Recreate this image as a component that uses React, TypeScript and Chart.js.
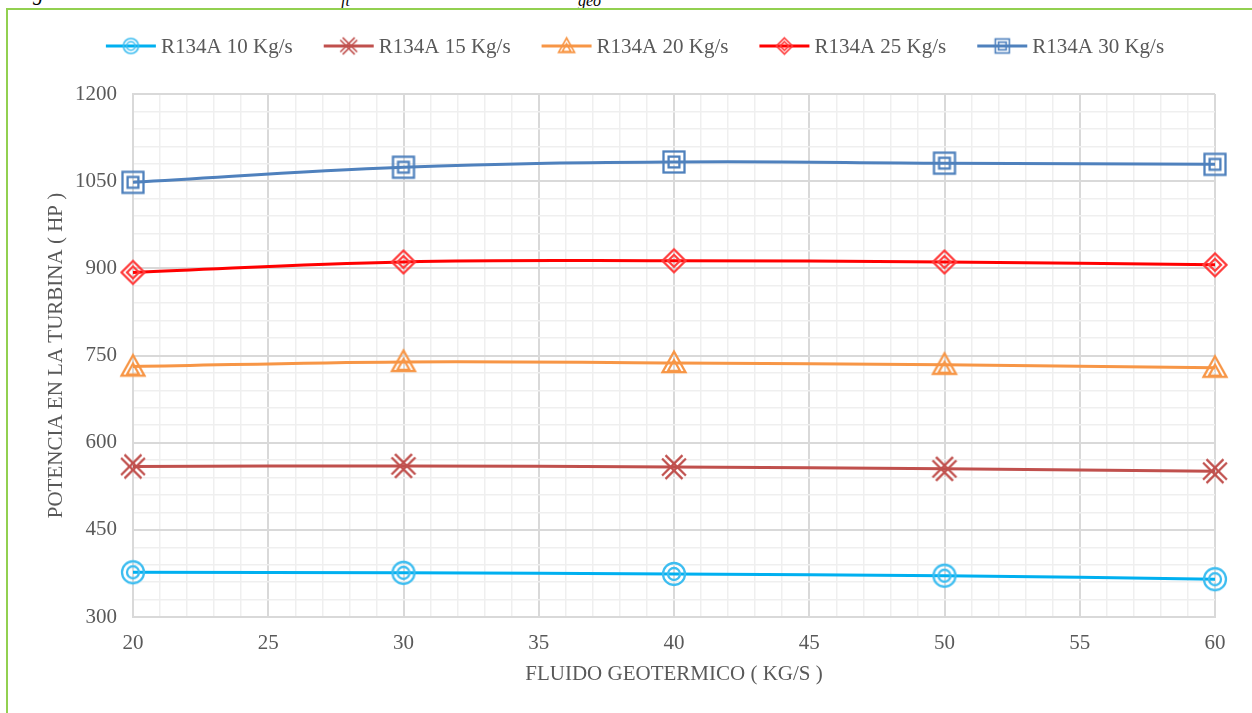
import React, { useEffect, useRef } from "react";
import { Chart, registerables } from "chart.js";

Chart.register(...registerables);

const xValues = [20, 30, 40, 50, 60];
const seriesLabels = ["R134A 10 Kg/s", "R134A 15 Kg/s", "R134A 20 Kg/s", "R134A 25 Kg/s", "R134A 30 Kg/s"];
const s10 = [377, 376, 374, 371, 365];
const s15 = [559, 560, 558, 555, 551];
const s20 = [731, 739, 737, 734, 729];
const s25 = [893, 911, 913, 911, 906];
const s30 = [1048, 1074, 1083, 1081, 1079];
const seriesValues = [s10, s15, s20, s25, s30];
const seriesColors = ["#00B0F0", "#C0504D", "#F79646", "#FF0000", "#4F81BD"];
const markerColors = ["#3DBDF0", "#C0504D", "#F79646", "#FF3B3B", "#4F81BD"];
const markerTypes = ["circle", "star", "triangle", "diamond", "square"];
const xTitle = "FLUIDO GEOTERMICO ( KG/S )";
const yTitle = "POTENCIA EN LA TURBINA ( HP )";

const FONT = "'Liberation Serif', 'Times New Roman', serif";
const TEXT = "#595959";

function makeMarker(type: string, color: string, size: number): HTMLCanvasElement {
  const pad = 3;
  const c = document.createElement("canvas");
  const dim = Math.ceil(size + pad * 2);
  c.width = dim;
  c.height = dim;
  const ctx = c.getContext("2d")!;
  const cx = dim / 2;
  const cy = dim / 2;
  const r = size / 2;
  ctx.strokeStyle = color;
  ctx.lineWidth = Math.max(1.6, size / 10.5);
  ctx.lineJoin = "miter";
  const ri = r * 0.5;
  if (type === "circle") {
    ctx.beginPath();
    ctx.arc(cx, cy, r - 1, 0, Math.PI * 2);
    ctx.stroke();
    ctx.beginPath();
    ctx.arc(cx, cy, ri, 0, Math.PI * 2);
    ctx.stroke();
  } else if (type === "square") {
    const o = r - 1.5;
    ctx.strokeRect(cx - o, cy - o, o * 2, o * 2);
    ctx.strokeRect(cx - ri * 0.9, cy - ri * 0.9, ri * 1.8, ri * 1.8);
  } else if (type === "diamond") {
    const d = (rr: number) => {
      ctx.beginPath();
      ctx.moveTo(cx, cy - rr);
      ctx.lineTo(cx + rr, cy);
      ctx.lineTo(cx, cy + rr);
      ctx.lineTo(cx - rr, cy);
      ctx.closePath();
      ctx.stroke();
    };
    d(r - 0.5);
    d(ri);
  } else if (type === "triangle") {
    const t = (rr: number, off: number) => {
      ctx.beginPath();
      ctx.moveTo(cx, cy - rr + off);
      ctx.lineTo(cx + rr, cy + rr * 0.8 + off);
      ctx.lineTo(cx - rr, cy + rr * 0.8 + off);
      ctx.closePath();
      ctx.stroke();
    };
    t(r - 0.5, 0);
    t(ri, r * 0.25);
  } else if (type === "star") {
    const a = r * 0.85;
    const off = Math.max(1.2, size / 14);
    for (const s of [-off, off]) {
      ctx.beginPath();
      ctx.moveTo(cx - a + s, cy - a - s);
      ctx.lineTo(cx + a + s, cy + a - s);
      ctx.moveTo(cx - a + s, cy + a + s);
      ctx.lineTo(cx + a + s, cy - a + s);
      ctx.stroke();
    }
  }
  return c;
}

const legendPlugin = {
  id: "customLegend",
  afterDraw(chart: any) {
    const ctx = chart.ctx as CanvasRenderingContext2D;
    ctx.save();
    ctx.font = `21px ${FONT}`;
    const lineLen = 50;
    const gap = 5;
    const itemGap = 31;
    const widths = seriesLabels.map((l) => ctx.measureText(l).width);
    const total = widths.reduce((a, w) => a + lineLen + gap + w, 0) + itemGap * (seriesLabels.length - 1);
    let x = 635 - total / 2;
    const y = 46;
    seriesLabels.forEach((label, i) => {
      ctx.strokeStyle = seriesColors[i];
      ctx.lineWidth = 3;
      ctx.beginPath();
      ctx.moveTo(x, y);
      ctx.lineTo(x + lineLen, y);
      ctx.stroke();
      const m = makeMarker(markerTypes[i], markerColors[i], 17);
      ctx.drawImage(m, x + lineLen / 2 - m.width / 2, y - m.height / 2);
      ctx.fillStyle = TEXT;
      ctx.textBaseline = "middle";
      ctx.textAlign = "left";
      ctx.fillText(label, x + lineLen + gap, y + 1);
      x += lineLen + gap + widths[i] + itemGap;
    });
    ctx.restore();
  },
};

export default function App() {
  const ref = useRef<HTMLCanvasElement | null>(null);
  useEffect(() => {
    if (!ref.current) return;
    const datasets = seriesLabels.map((label, i) => ({
      label,
      data: xValues.map((x, j) => ({ x, y: seriesValues[i][j] })),
      borderColor: seriesColors[i],
      backgroundColor: seriesColors[i],
      borderWidth: 3,
      tension: 0.4,
      pointStyle: makeMarker(markerTypes[i], markerColors[i], 24) as any,
      pointRadius: 12,
      clip: false as any,
    }));
    const chart = new Chart(ref.current, {
      type: "line",
      data: { datasets },
      plugins: [legendPlugin],
      options: {
        animation: false,
        responsive: false,
        layout: { padding: { top: 94, right: 37, left: 40, bottom: 22 } },
        plugins: { legend: { display: false }, tooltip: { enabled: false } },
        scales: {
          x: {
            type: "linear",
            min: 20,
            max: 60,
            afterFit: (s: any) => {
              s.height = 74;
            },
            ticks: {
              stepSize: 1,
              autoSkip: false,
              maxRotation: 0,
              padding: 14,
              color: TEXT,
              font: { family: FONT, size: 21 },
              callback: (v: any) => (Number(v) % 5 === 0 ? String(v) : ""),
            },
            grid: {
              drawTicks: false,
              color: (c: any) => (c.tick && c.tick.value % 5 === 0 ? "#D9D9D9" : "#EFEFEF"),
              lineWidth: (c: any) => (c.tick && c.tick.value % 5 === 0 ? 2 : 1.5),
            },
            border: { color: "#D9D9D9", width: 2 },
            title: { display: true, text: xTitle, color: TEXT, font: { family: FONT, size: 21 } },
          },
          y: {
            min: 300,
            max: 1200,
            afterFit: (s: any) => {
              s.width = 93;
            },
            ticks: {
              stepSize: 30,
              autoSkip: false,
              padding: 16,
              color: TEXT,
              font: { family: FONT, size: 21 },
              callback: (v: any) => (Number(v) % 150 === 0 ? String(v) : ""),
            },
            grid: {
              drawTicks: false,
              color: (c: any) => (c.tick && c.tick.value % 150 === 0 ? "#D9D9D9" : "#EFEFEF"),
              lineWidth: (c: any) => (c.tick && c.tick.value % 150 === 0 ? 2 : 1.5),
            },
            border: { color: "#D9D9D9", width: 2 },
            title: { display: true, text: yTitle, color: TEXT, font: { family: FONT, size: 21 } },
          },
        },
      },
    });
    return () => chart.destroy();
  }, []);

  const capStyle: React.CSSProperties = {
    position: "absolute",
    fontFamily: FONT,
    fontStyle: "italic",
    color: "#000",
    lineHeight: 1,
    whiteSpace: "nowrap",
  };

  return (
    <div style={{ position: "fixed", left: 0, top: 0, width: 1252, height: 713, overflow: "hidden", background: "#fff" }}>
      <div style={{ position: "absolute", left: 0, top: 0, width: 1252, height: 8, overflow: "hidden" }}>
        <span style={{ ...capStyle, left: 33, top: -17, fontSize: 21 }}>g</span>
        <span style={{ ...capStyle, left: 341, top: -7, fontSize: 16 }}>ft</span>
        <span style={{ ...capStyle, left: 578, top: -7, fontSize: 16 }}>geo</span>
      </div>
      <div
        style={{
          position: "absolute",
          left: 6,
          top: 8,
          width: 1300,
          height: 800,
          border: "2px solid #92D050",
          boxSizing: "border-box",
        }}
      />
      <canvas ref={ref} width={1252} height={713} style={{ position: "absolute", left: 0, top: 0, width: 1252, height: 713 }} />
    </div>
  );
}
